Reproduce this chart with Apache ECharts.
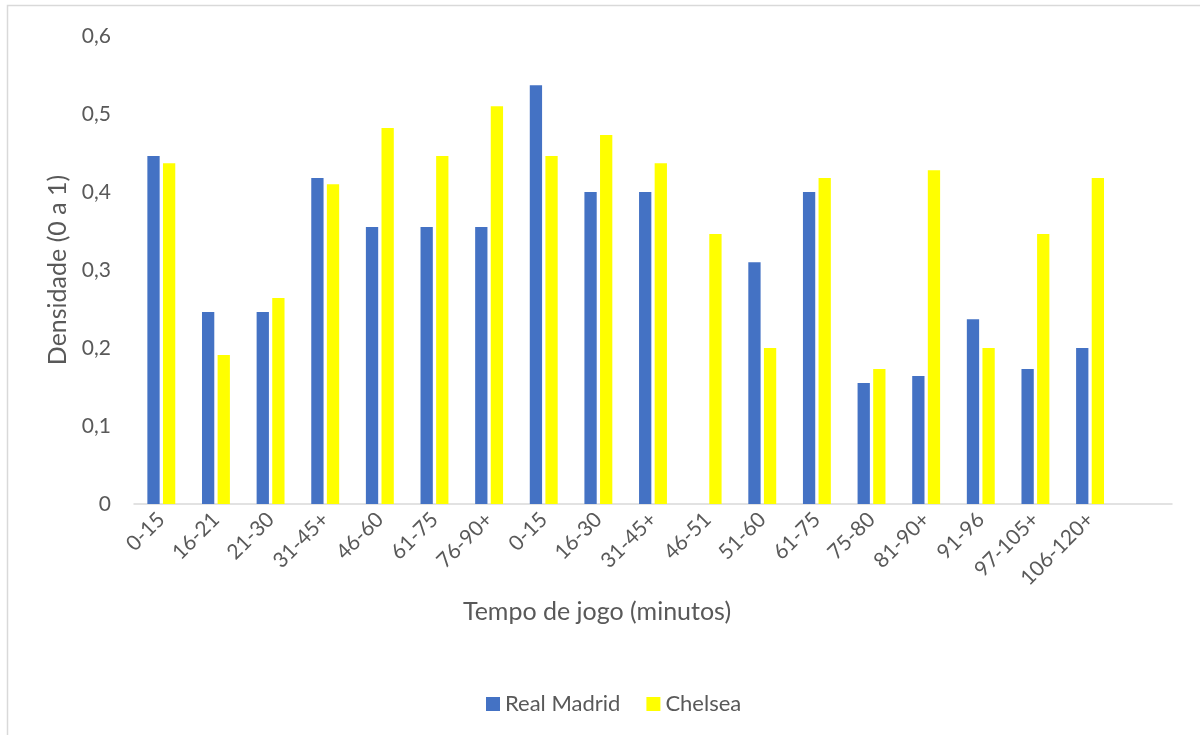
<!DOCTYPE html>
<html>
<head>
<meta charset="utf-8">
<title>Densidade por tempo de jogo</title>
<script src="https://cdn.jsdelivr.net/npm/echarts@6/dist/echarts.min.js"></script>
<style>
  html, body { margin: 0; padding: 0; background: #ffffff; }
  #chart { width: 1200px; height: 735px; }
</style>
</head>
<body>
<div id="chart"></div>
<script>
// Match-time intervals (the last slot is left empty)
const categories = [
  '0-15', '16-21', '21-30', '31-45+', '46-60', '61-75', '76-90+',
  '0-15', '16-30', '31-45+', '46-51', '51-60', '61-75', '75-80',
  '81-90+', '91-96', '97-105+', '106-120+', ''
];

// Density per interval (0 to 1)
const realMadrid = [
  0.446, 0.246, 0.246, 0.418, 0.355, 0.355, 0.355,
  0.537, 0.400, 0.400, 0, 0.310, 0.400, 0.155,
  0.164, 0.237, 0.173, 0.200, null
];
const chelsea = [
  0.437, 0.191, 0.264, 0.410, 0.482, 0.446, 0.510,
  0.446, 0.473, 0.437, 0.346, 0.200, 0.418, 0.173,
  0.428, 0.200, 0.346, 0.418, null
];

const yTicks = [0, 0.1, 0.2, 0.3, 0.4, 0.5, 0.6];

const FONT = 'Lato';
const TEXT = '#595959';

const chart = echarts.init(document.getElementById('chart'), null, { renderer: 'canvas' });

chart.setOption({
  backgroundColor: '#ffffff',
  animation: false,
  textStyle: { fontFamily: FONT, color: TEXT },
  graphic: [{
    type: 'rect',
    shape: { x: 7.5, y: 5.5, width: 1300, height: 900 },
    style: { fill: 'none', stroke: '#d9d9d9', lineWidth: 1.5 },
    silent: true,
    z: -10
  }],
  grid: { left: 134, right: 28, top: 36, bottom: 231, containLabel: false },
  legend: {
    data: ['Real Madrid', 'Chelsea'],
    left: 481,
    top: 688,
    icon: 'rect',
    itemWidth: 14,
    itemHeight: 14,
    itemGap: 26,
    textStyle: { fontFamily: FONT, fontSize: 22, color: TEXT }
  },
  xAxis: {
    type: 'category',
    data: categories,
    name: 'Tempo de jogo (minutos)',
    nameLocation: 'middle',
    nameGap: 95,
    nameTextStyle: { fontFamily: FONT, fontSize: 25, color: TEXT, padding: [0, 112, 0, 0] },
    axisLine: { lineStyle: { color: '#d9d9d9', width: 1.5 } },
    axisTick: { show: false },
    axisLabel: {
      rotate: 45,
      interval: 0,
      margin: 12,
      fontFamily: FONT,
      fontSize: 21,
      color: TEXT
    },
    splitLine: { show: false }
  },
  yAxis: {
    type: 'value',
    min: yTicks[0],
    max: yTicks[yTicks.length - 1],
    interval: 0.1,
    name: 'Densidade (0 a 1)',
    nameLocation: 'middle',
    nameGap: 64,
    nameTextStyle: { fontFamily: FONT, fontSize: 25, color: TEXT },
    axisLine: { show: false },
    axisTick: { show: false },
    splitLine: { show: false },
    axisLabel: {
      margin: 23,
      fontFamily: FONT,
      fontSize: 21,
      color: TEXT,
      formatter: v => (Math.round(v * 10) / 10).toString().replace('.', ',')
    }
  },
  series: [
    {
      name: 'Real Madrid',
      type: 'bar',
      data: realMadrid,
      barWidth: '22.5%',
      barGap: '27%',
      itemStyle: { color: '#4472c4' }
    },
    {
      name: 'Chelsea',
      type: 'bar',
      data: chelsea,
      barWidth: '22.5%',
      barGap: '27%',
      itemStyle: { color: '#ffff00' }
    }
  ]
});
</script>
</body>
</html>
